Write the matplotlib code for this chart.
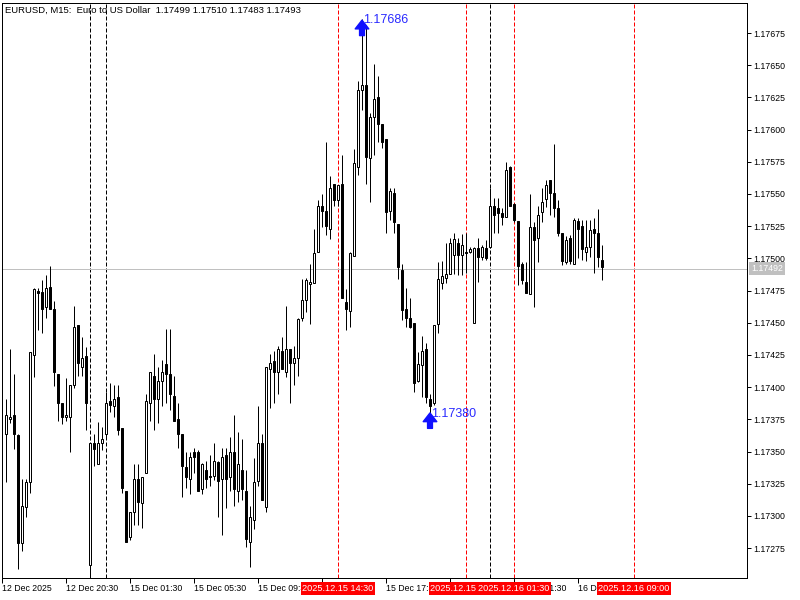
import numpy as np
import matplotlib
matplotlib.use('Agg')
import matplotlib.pyplot as plt
import matplotlib.transforms as mtransforms

# EURUSD M15 bars (oldest first)

title = 'EURUSD, M15:  Euro to US Dollar  1.17499 1.17510 1.17483 1.17493'

opens = [
    1.17364, 1.17375, 1.17378, 1.17363, 1.17279, 1.17307, 1.17326, 1.17425, 1.17475, 1.17474,
    1.17462, 1.17478, 1.17461, 1.17410, 1.17388, 1.17377, 1.17377, 1.17402, 1.17448, 1.17416,
    1.17424, 1.17262, 1.17357, 1.17340, 1.17357, 1.17364, 1.17389, 1.17385, 1.17392, 1.17368,
    1.17319, 1.17284, 1.17303, 1.17329, 1.17310, 1.17333, 1.17388, 1.17409, 1.17391, 1.17405,
    1.17418, 1.17410, 1.17393, 1.17375, 1.17364, 1.17338, 1.17329, 1.17350, 1.17350, 1.17321,
    1.17336, 1.17331, 1.17331, 1.17342, 1.17329, 1.17347, 1.17330, 1.17350, 1.17319, 1.17336,
    1.17319, 1.17280, 1.17297, 1.17327, 1.17357, 1.17307, 1.17414, 1.17420, 1.17412, 1.17428,
    1.17412, 1.17430, 1.17419, 1.17423, 1.17454, 1.17468, 1.17480, 1.17481, 1.17505, 1.17541,
    1.17537, 1.17523, 1.17558, 1.17545, 1.17558, 1.17466, 1.17459, 1.17502, 1.17571, 1.17631,
    1.17635, 1.17578, 1.17610, 1.17625, 1.17604, 1.17593, 1.17537, 1.17551, 1.17527, 1.17491,
    1.17461, 1.17454, 1.17450, 1.17405, 1.17417, 1.17430, 1.17391, 1.17388, 1.17449, 1.17481,
    1.17485, 1.17488, 1.17503, 1.17512, 1.17503, 1.17505, 1.17505, 1.17450, 1.17508, 1.17501,
    1.17508, 1.17509, 1.17541, 1.17539, 1.17535, 1.17532, 1.17571, 1.17542, 1.17529, 1.17496,
    1.17482, 1.17472, 1.17524, 1.17516, 1.17536, 1.17546, 1.17561, 1.17551, 1.17539, 1.17520,
    1.17497, 1.17516, 1.17496, 1.17529, 1.17525, 1.17505, 1.17509, 1.17523, 1.17520, 1.17499,
]

highs = [
    1.17391, 1.17430, 1.17410, 1.17364, 1.17329, 1.17329, 1.17427, 1.17477, 1.17477, 1.17483,
    1.17487, 1.17494, 1.17467, 1.17410, 1.17388, 1.17407, 1.17402, 1.17463, 1.17448, 1.17439,
    1.17431, 1.17357, 1.17364, 1.17373, 1.17369, 1.17396, 1.17403, 1.17402, 1.17402, 1.17368,
    1.17319, 1.17303, 1.17340, 1.17340, 1.17330, 1.17395, 1.17412, 1.17426, 1.17416, 1.17421,
    1.17445, 1.17445, 1.17409, 1.17388, 1.17364, 1.17350, 1.17350, 1.17353, 1.17351, 1.17341,
    1.17343, 1.17347, 1.17357, 1.17343, 1.17353, 1.17353, 1.17361, 1.17378, 1.17365, 1.17360,
    1.17336, 1.17308, 1.17345, 1.17385, 1.17364, 1.17416, 1.17426, 1.17428, 1.17432, 1.17439,
    1.17463, 1.17430, 1.17432, 1.17454, 1.17484, 1.17485, 1.17496, 1.17523, 1.17545, 1.17550,
    1.17590, 1.17564, 1.17558, 1.17557, 1.17580, 1.17476, 1.17505, 1.17585, 1.17638, 1.17686,
    1.17681, 1.17613, 1.17651, 1.17642, 1.17604, 1.17593, 1.17555, 1.17555, 1.17527, 1.17496,
    1.17477, 1.17469, 1.17450, 1.17427, 1.17440, 1.17434, 1.17395, 1.17448, 1.17497, 1.17498,
    1.17512, 1.17516, 1.17520, 1.17516, 1.17519, 1.17520, 1.17509, 1.17509, 1.17516, 1.17510,
    1.17514, 1.17555, 1.17547, 1.17547, 1.17539, 1.17575, 1.17572, 1.17543, 1.17529, 1.17497,
    1.17497, 1.17550, 1.17528, 1.17541, 1.17555, 1.17561, 1.17561, 1.17589, 1.17545, 1.17520,
    1.17517, 1.17518, 1.17531, 1.17531, 1.17530, 1.17530, 1.17530, 1.17531, 1.17538, 1.17510,
]

lows = [
    1.17326, 1.17372, 1.17352, 1.17259, 1.17273, 1.17299, 1.17318, 1.17408, 1.17444, 1.17442,
    1.17454, 1.17461, 1.17401, 1.17374, 1.17371, 1.17374, 1.17350, 1.17399, 1.17409, 1.17409,
    1.17367, 1.17253, 1.17339, 1.17340, 1.17351, 1.17360, 1.17381, 1.17377, 1.17363, 1.17318,
    1.17280, 1.17281, 1.17293, 1.17293, 1.17291, 1.17333, 1.17374, 1.17367, 1.17372, 1.17385,
    1.17388, 1.17382, 1.17374, 1.17353, 1.17315, 1.17322, 1.17317, 1.17333, 1.17319, 1.17317,
    1.17322, 1.17323, 1.17328, 1.17299, 1.17285, 1.17306, 1.17319, 1.17308, 1.17311, 1.17312,
    1.17276, 1.17260, 1.17290, 1.17323, 1.17312, 1.17303, 1.17384, 1.17388, 1.17395, 1.17414,
    1.17408, 1.17388, 1.17402, 1.17409, 1.17451, 1.17458, 1.17449, 1.17481, 1.17505, 1.17524,
    1.17518, 1.17515, 1.17541, 1.17541, 1.17469, 1.17444, 1.17447, 1.17502, 1.17565, 1.17615,
    1.17558, 1.17544, 1.17580, 1.17590, 1.17586, 1.17520, 1.17530, 1.17520, 1.17484, 1.17452,
    1.17447, 1.17446, 1.17396, 1.17404, 1.17392, 1.17388, 1.17380, 1.17386, 1.17442, 1.17476,
    1.17481, 1.17488, 1.17488, 1.17487, 1.17487, 1.17489, 1.17504, 1.17450, 1.17482, 1.17499,
    1.17499, 1.17508, 1.17520, 1.17520, 1.17526, 1.17532, 1.17541, 1.17528, 1.17479, 1.17480,
    1.17473, 1.17472, 1.17462, 1.17497, 1.17528, 1.17540, 1.17534, 1.17532, 1.17517, 1.17495,
    1.17496, 1.17496, 1.17496, 1.17500, 1.17499, 1.17498, 1.17501, 1.17489, 1.17493, 1.17483,
]

closes = [
    1.17378, 1.17377, 1.17364, 1.17279, 1.17308, 1.17326, 1.17427, 1.17476, 1.17473, 1.17461,
    1.17477, 1.17461, 1.17412, 1.17388, 1.17377, 1.17378, 1.17402, 1.17447, 1.17419, 1.17423,
    1.17388, 1.17357, 1.17352, 1.17357, 1.17360, 1.17388, 1.17386, 1.17391, 1.17367, 1.17322,
    1.17280, 1.17303, 1.17329, 1.17311, 1.17330, 1.17389, 1.17412, 1.17391, 1.17405, 1.17412,
    1.17410, 1.17395, 1.17374, 1.17364, 1.17339, 1.17330, 1.17346, 1.17346, 1.17319, 1.17340,
    1.17329, 1.17330, 1.17343, 1.17327, 1.17346, 1.17329, 1.17350, 1.17321, 1.17340, 1.17321,
    1.17282, 1.17299, 1.17326, 1.17357, 1.17312, 1.17416, 1.17419, 1.17412, 1.17430, 1.17414,
    1.17430, 1.17419, 1.17423, 1.17453, 1.17468, 1.17483, 1.17482, 1.17504, 1.17541, 1.17537,
    1.17525, 1.17555, 1.17545, 1.17557, 1.17469, 1.17461, 1.17504, 1.17574, 1.17631, 1.17635,
    1.17579, 1.17610, 1.17624, 1.17604, 1.17590, 1.17536, 1.17552, 1.17528, 1.17493, 1.17460,
    1.17454, 1.17447, 1.17403, 1.17418, 1.17428, 1.17392, 1.17385, 1.17448, 1.17484, 1.17486,
    1.17488, 1.17512, 1.17515, 1.17503, 1.17510, 1.17504, 1.17507, 1.17508, 1.17501, 1.17509,
    1.17500, 1.17541, 1.17534, 1.17535, 1.17532, 1.17569, 1.17541, 1.17530, 1.17494, 1.17483,
    1.17473, 1.17524, 1.17514, 1.17534, 1.17544, 1.17557, 1.17551, 1.17539, 1.17520, 1.17498,
    1.17514, 1.17498, 1.17530, 1.17523, 1.17507, 1.17509, 1.17522, 1.17520, 1.17501, 1.17493,
]

time_labels = ['12 Dec 2025', '12 Dec 20:30', '15 Dec 01:30', '15 Dec 05:30',
               '15 Dec 09:30', '15 Dec 13:30', '15 Dec 17:30', '15 Dec 21:30',
               '16 Dec 01:30', '16 Dec 05:30']
first_label_bar = -1
bars_per_label = 16

red_line_bars = [83, 115, 127, 157]
red_line_labels = ['2025.12.15 14:30', '2025.12.15 22:30',
                   '2025.12.16 01:30', '2025.12.16 09:00']
black_line_bars = [21, 25, 121]

bid = 1.17492
high_bar, high_price = 89, 1.17686
low_bar, low_price = 106, 1.17380

price_ticks = np.arange(1.17275, 1.176751, 0.00025)


def main():
    plt.rcParams['font.family'] = ['Liberation Sans', 'DejaVu Sans']
    px = 72.0 / 100  # one pixel in points

    o = np.array(opens)
    h = np.array(highs)
    l = np.array(lows)
    c = np.array(closes)
    x = np.arange(len(o))

    fig = plt.figure(figsize=(8, 6), dpi=100)
    ax = fig.add_axes([2 / 800, 22 / 600, 745 / 800, 575 / 600])
    ax.set_xlim(-1, 185.25)
    ax.set_ylim(1.172518, 1.176983)

    # vertical markers and bid line behind the bars
    for b in red_line_bars:
        ax.axvline(b, color='#ff0000', lw=px, ls=(0, (4, 2)), zorder=1)
    for b in black_line_bars:
        ax.axvline(b, color='black', lw=px, ls=(0, (4, 2)), zorder=1)
    ax.axhline(bid, color='#c0c0c0', lw=px, zorder=1)

    # candles
    ax.vlines(x, l, h, color='black', lw=px, zorder=2)
    body_lo = np.minimum(o, c)
    body_h = np.maximum(np.abs(c - o), 0.000002)
    faces = np.where(c >= o, 'white', 'black')
    ax.bar(x, body_h, bottom=body_lo, width=0.5, color=faces,
           edgecolor='black', linewidth=px, zorder=3)

    # high / low marks
    arrow = dict(arrowstyle='simple,head_length=0.45,head_width=0.7,tail_width=0.25',
                 color='#1010ff', mutation_scale=14, shrinkA=0, shrinkB=0)
    ax.annotate('', xy=(high_bar, high_price - 0.00001),
                xytext=(high_bar, high_price - 0.00013), arrowprops=arrow, zorder=6)
    ax.annotate('', xy=(low_bar, low_price), xytext=(low_bar, low_price - 0.00012),
                arrowprops=arrow, zorder=6)
    ax.text(high_bar + 0.25, high_price - 0.00001, '%.5f' % high_price,
            color='#2a2aff', fontsize=9, va='center', ha='left', zorder=6)
    ax.text(low_bar + 0.25, low_price - 0.000005, '%.5f' % low_price,
            color='#2a2aff', fontsize=9, va='center', ha='left', zorder=6)

    # axes look
    for s in ax.spines.values():
        s.set_linewidth(px)
    ax.yaxis.tick_right()
    ax.set_yticks(price_ticks)
    ax.set_yticklabels(['%.5f' % p for p in price_ticks])
    ax.tick_params(axis='y', direction='out', length=4 * px, width=px,
                   pad=2 * px, labelsize=6.3)
    ticks = [first_label_bar + bars_per_label * k for k in range(len(time_labels))]
    ax.set_xticks(ticks)
    ax.set_xticklabels(time_labels)
    ax.tick_params(axis='x', direction='out', length=5 * px, width=px,
                   pad=1, labelsize=6.3)
    for lab in ax.get_xticklabels():
        lab.set_ha('left')

    # title line
    ax.text(0.004, 0.9878, title, transform=ax.transAxes, fontsize=6.8,
            va='center', ha='left')

    # red date boxes under the vertical lines
    trans = mtransforms.blended_transform_factory(ax.transData, ax.transAxes)
    for b, lab in zip(red_line_bars, red_line_labels):
        ax.text(b, -0.0185, lab, transform=trans, fontsize=6.6, color='white',
                ha='center', va='center', clip_on=False, zorder=10,
                bbox=dict(boxstyle='square,pad=0.18', fc='#ff0000', ec='none'))

    # bid price box on the price scale
    trans_y = mtransforms.blended_transform_factory(ax.transAxes, ax.transData)
    ax.text(1.0055, bid, '%.5f' % bid, transform=trans_y, fontsize=6.3,
            color='white', ha='left', va='center', clip_on=False, zorder=10,
            bbox=dict(boxstyle='square,pad=0.2', fc='#c0c0c0', ec='none'))

    fig.savefig('out.png', dpi=100)


if __name__ == '__main__':
    main()
